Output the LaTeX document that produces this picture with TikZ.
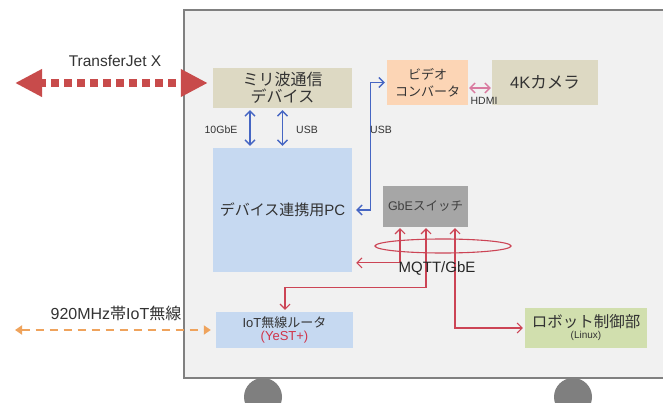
\documentclass[tikz,border=0pt]{standalone}
\usepackage{fontspec}
\setmainfont{Liberation Sans}
\newfontfamily\jp{Noto Sans CJK JP}
\usetikzlibrary{arrows.meta,calc,shapes.geometric}
\definecolor{bodyfill}{HTML}{F1F1F1}
\definecolor{bodyline}{HTML}{808080}
\definecolor{wheelc}{HTML}{7F7F7F}
\definecolor{tan}{HTML}{DDD9C3}
\definecolor{peach}{HTML}{FCD5B5}
\definecolor{lblue}{HTML}{C6D9F1}
\definecolor{swgray}{HTML}{A6A6A6}
\definecolor{lgreen}{HTML}{D1DFAE}
\definecolor{tjred}{HTML}{C84B4B}
\definecolor{orangec}{HTML}{EFA35C}
\definecolor{bluec}{HTML}{4666C3}
\definecolor{redc}{HTML}{CC4455}
\definecolor{pinkc}{HTML}{D97AA0}
\definecolor{txt}{HTML}{333333}
\definecolor{yestred}{HTML}{D0344A}
\begin{document}
\begin{tikzpicture}[x=1pt,y=-1pt,
  box/.style={draw=none,inner sep=0pt,align=center,text=txt},
  bluearr/.style={draw=bluec,line width=1.3pt,{Straight Barb[length=5pt,width=10pt]}-{Straight Barb[length=5pt,width=10pt]}},
  redarr/.style={draw=redc,line width=1.1pt,{Straight Barb[length=5pt,width=10pt]}-{Straight Barb[length=5pt,width=10pt]}},
  pinkarr/.style={draw=pinkc,line width=1.3pt,{Straight Barb[length=5pt,width=10pt]}-{Straight Barb[length=5pt,width=10pt]}},
  tjarr/.style={draw=tjred,line width=8pt,dash pattern=on 8pt off 5pt,dash phase=2pt,
    {Triangle[length=27pt,width=26pt,fill=tjred]}-{Triangle[length=27pt,width=26pt,fill=tjred]}},
  orarr/.style={draw=orangec,line width=2.5pt,dash pattern=on 8pt off 6pt,
    {Triangle[length=7pt,width=9pt]}-{Triangle[length=7pt,width=9pt]}},
  small/.style={text=txt,font=\fontsize{10.5}{12}\selectfont},
]
\useasboundingbox (0,0) rectangle (663,403);
\fill[white] (0,0) rectangle (663,403);
% wheels
\fill[wheelc] (263,397) circle[radius=19pt];
\fill[wheelc] (573,397) circle[radius=19pt];
% body
\draw[fill=bodyfill,draw=bodyline,line width=2.5pt] (184,10) rectangle (690,378);

% boxes
\node[box,fill=tan,minimum width=139pt,minimum height=40pt,font=\jp\fontsize{16}{17}\selectfont] (mw) at (282.5,88) {ミリ波通信\\デバイス};
\node[box,fill=peach,minimum width=81pt,minimum height=45pt,font=\jp\fontsize{13}{17}\selectfont] (vc) at (427.5,82.5) {ビデオ\\コンバータ};
\node[box,fill=tan,minimum width=106pt,minimum height=45pt,font=\fontsize{16.5}{17}\selectfont] (cam) at (545,82.5) {4K{\jp カメラ}};
\node[box,fill=lblue,minimum width=139pt,minimum height=124pt,font=\fontsize{15}{17}\selectfont] (pc) at (282.5,210) {{\jp デバイス連携用}PC};
\node[box,fill=swgray,minimum width=85pt,minimum height=41pt,font=\fontsize{12.5}{13}\selectfont,text=black!75] (sw) at (425.5,206.5) {GbE{\jp スイッチ}};
\node[box,fill=lblue,minimum width=137pt,minimum height=36pt,font=\fontsize{13}{13.5}\selectfont] (iot) at (284.5,330) {IoT{\jp 無線ルータ}\\{\color{yestred}(YeST+)}};
\node[box,fill=lgreen,minimum width=122pt,minimum height=40pt] (robot) at (586,328) {{\jp\fontsize{15.5}{17}\selectfont ロボット制御部}\\[-1pt]{\fontsize{10}{11}\selectfont (Linux)}};

% bundle ellipse
\node[draw=redc,line width=1.1pt,ellipse,minimum width=136pt,minimum height=14pt,inner sep=0pt] (bundle) at (443,246) {};

% blue connectors
\draw[bluearr,shorten <=2pt,shorten >=2pt] ([xshift=-32.5pt]mw.south) -- ([xshift=-32.5pt]pc.north);
\draw[bluearr,shorten <=2pt,shorten >=2pt] (mw.south) -- (pc.north);
\draw[bluearr] ([xshift=4pt]pc.east) -- ++(14,0) |- ([xshift=-2pt]vc.west);
% HDMI
\draw[pinkarr,shorten <=1pt,shorten >=1pt] ([yshift=-5.5pt]vc.east) -- ([yshift=-5.5pt]cam.west);

% red connectors
\draw[redarr] ([xshift=-25.5pt,yshift=-1pt]sw.south) |- ($(pc.south east)+(4,-9.3)$);
\draw[redarr] ([xshift=0.5pt,yshift=-1pt]sw.south) -- ++(0,59) -| ([xshift=0.5pt,yshift=2pt]iot.north);
\draw[redarr] ([xshift=29.5pt,yshift=-1pt]sw.south) |- ([xshift=-2pt]robot.west);

% external links
\coordinate (tjL) at (15,83);
\draw[tjarr] (tjL) -- ([xshift=-5pt,yshift=5pt]mw.west);
\coordinate (orL) at (15,330);
\draw[orarr] (orL) -- ([xshift=-5pt]iot.west);

% labels
\node[text=txt,font=\fontsize{15.5}{17}\selectfont] (tjlab) at (115,61) {TransferJet X};
\node[text=txt,font=\fontsize{16}{18}\selectfont] (orlab) at (116,313) {920MHz{\jp 帯}IoT{\jp 無線}};
\node[small] (l10) at (221,130) {10GbE};
\node[small] (lusb1) at (307,130) {USB};
\node[small] (lusb2) at (381,130) {USB};
\node[small] (lhdmi) at (484,101) {HDMI};
\node[text=black!85,font=\fontsize{15}{17}\selectfont] (mqtt) at (437,268) {MQTT/GbE};
\end{tikzpicture}
\end{document}
